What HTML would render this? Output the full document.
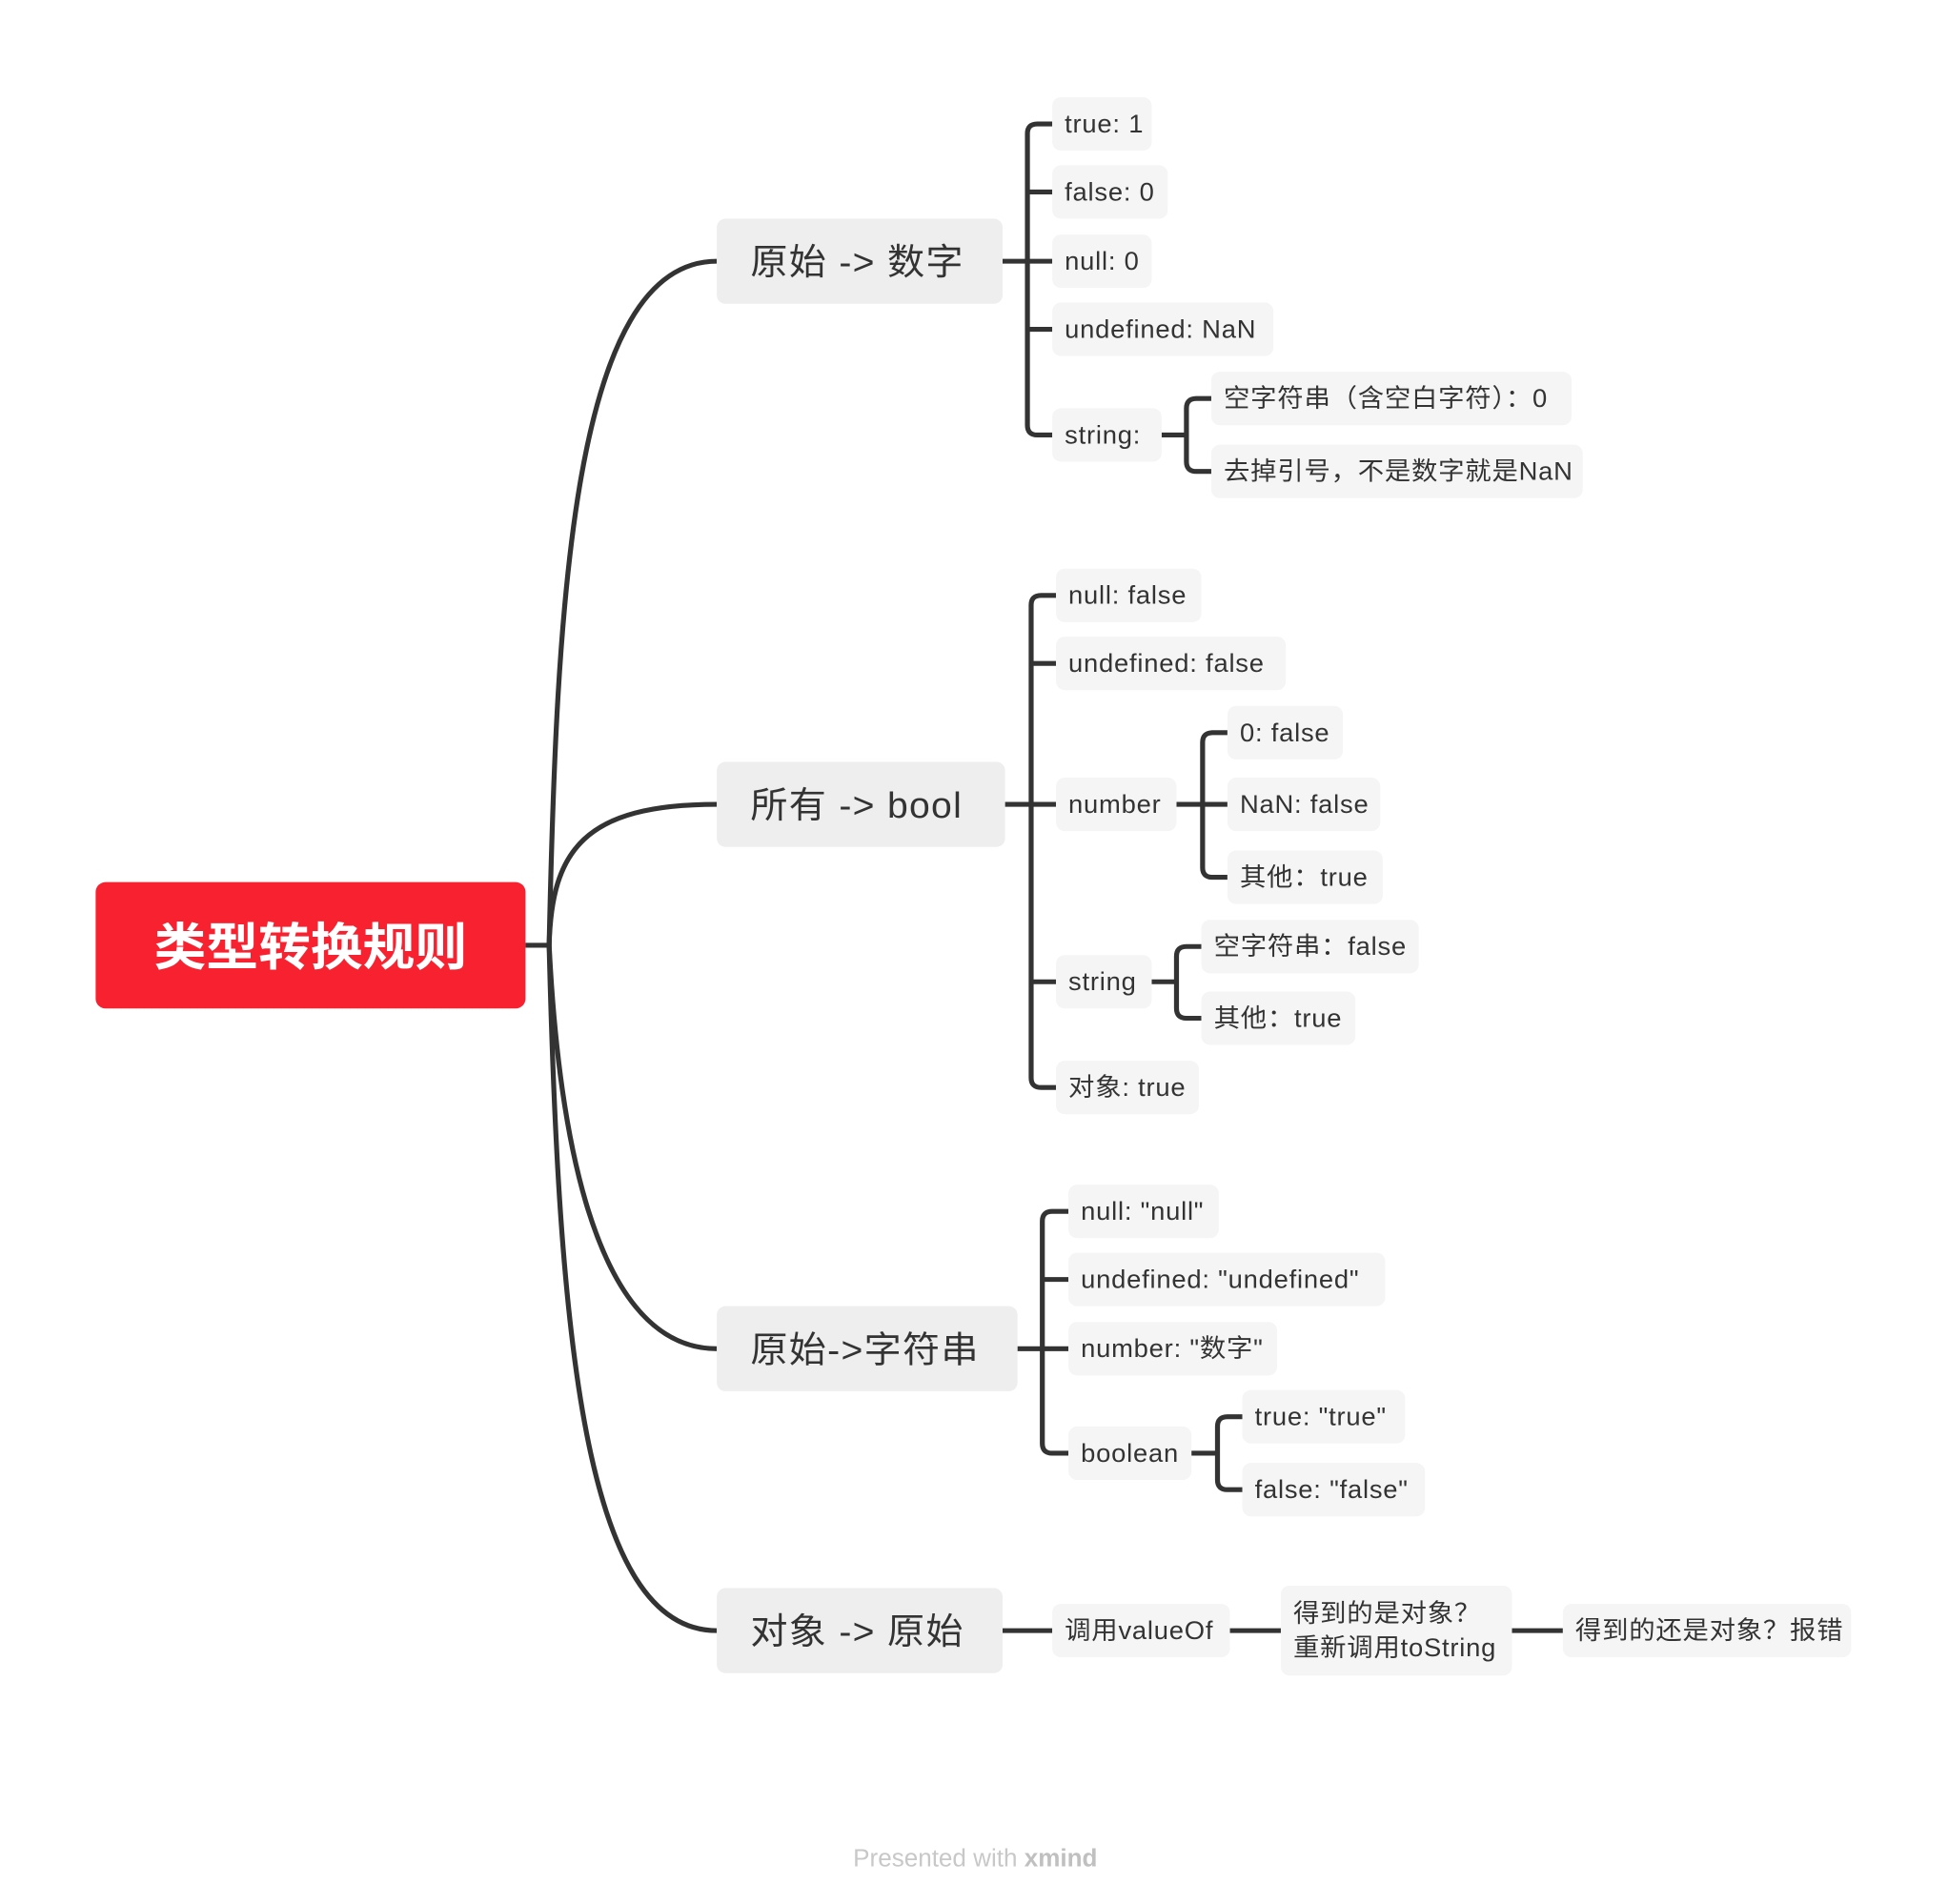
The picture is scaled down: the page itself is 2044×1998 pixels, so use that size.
<!DOCTYPE html>
<html><head><meta charset="utf-8"><style>
html,body{margin:0;padding:0;background:#fff;}
svg{display:block;}
text{font-family:"Liberation Sans","Noto Sans CJK SC",sans-serif;fill:#333;}
.l{font-size:21px;letter-spacing:0.6px;}
.b{font-size:30px;letter-spacing:1px;}
</style></head><body>
<svg width="2044" height="1998" viewBox="0 0 1568 1567" preserveAspectRatio="none" xmlns="http://www.w3.org/2000/svg">
<g fill="none" stroke="#333" stroke-width="4" stroke-linecap="butt">
<path d="M423 778 H442"/>
<path d="M442 778 C448 500 460 215 577 215"/>
<path d="M442 778 C444 700 470 662 577 662"/>
<path d="M442 778 C448 900 470 1110 577 1110"/>
<path d="M442 778 C450 1100 470 1342 577 1342"/>
<path d="M807 215 H827"/>
<path d="M847 102 H835 Q827 102 827 110 V350 Q827 358 835 358 H847"/>
<path d="M827 158 H847 M827 215 H847 M827 271 H847"/>
<path d="M935 358 H955"/>
<path d="M975 328 H963 Q955 328 955 336 V380 Q955 388 963 388 H975"/>
<path d="M809 662 H830"/>
<path d="M850 490 H838 Q830 490 830 498 V887 Q830 895 838 895 H850"/>
<path d="M830 546 H850 M830 662 H850 M830 808 H850"/>
<path d="M947 662 H968"/>
<path d="M988 603 H976 Q968 603 968 611 V714 Q968 722 976 722 H988 M968 662 H988"/>
<path d="M927 808 H947"/>
<path d="M967 779 H955 Q947 779 947 787 V830 Q947 838 955 838 H967"/>
<path d="M819 1110 H839"/>
<path d="M860 997 H847 Q839 997 839 1005 V1188 Q839 1196 847 1196 H860"/>
<path d="M839 1053 H860 M839 1110 H860"/>
<path d="M959 1196 H980"/>
<path d="M1000 1166 H988 Q980 1166 980 1174 V1218 Q980 1226 988 1226 H1000"/>
<path d="M807 1342 H847 M990 1342 H1031 M1217 1342 H1258"/>
</g>
<rect x="77" y="726" width="346" height="104" rx="8" fill="#F7212F"/>
<text x="250" y="794" text-anchor="middle" style="font-size:42px;font-weight:bold;fill:#fff">类型转换规则</text>
<g fill="#EEEEEE">
<rect x="577" y="180" width="230" height="70" rx="7"/>
<rect x="577" y="627" width="232" height="70" rx="7"/>
<rect x="577" y="1075" width="242" height="70" rx="7"/>
<rect x="577" y="1307" width="230" height="70" rx="7"/>
</g>
<text class="b" x="604" y="226">原始 -&gt; 数字</text>
<text class="b" x="604" y="673">所有 -&gt; bool</text>
<text class="b" x="604" y="1121">原始-&gt;字符串</text>
<text class="b" x="604" y="1353">对象 -&gt; 原始</text>
<g fill="#F5F5F5">
<rect x="847" y="80" width="80" height="44" rx="7"/>
<rect x="847" y="136" width="93" height="44" rx="7"/>
<rect x="847" y="193" width="80" height="44" rx="7"/>
<rect x="847" y="249" width="178" height="44" rx="7"/>
<rect x="847" y="336" width="88" height="44" rx="7"/>
<rect x="975" y="306" width="290" height="44" rx="7"/>
<rect x="975" y="366" width="299" height="44" rx="7"/>
<rect x="850" y="468" width="117" height="44" rx="7"/>
<rect x="850" y="524" width="185" height="44" rx="7"/>
<rect x="850" y="640" width="97" height="44" rx="7"/>
<rect x="850" y="786" width="77" height="44" rx="7"/>
<rect x="850" y="873" width="115" height="44" rx="7"/>
<rect x="988" y="581" width="93" height="44" rx="7"/>
<rect x="988" y="640" width="123" height="44" rx="7"/>
<rect x="988" y="700" width="125" height="44" rx="7"/>
<rect x="967" y="757" width="175" height="44" rx="7"/>
<rect x="967" y="816" width="124" height="44" rx="7"/>
<rect x="860" y="975" width="121" height="44" rx="7"/>
<rect x="860" y="1031" width="255" height="44" rx="7"/>
<rect x="860" y="1088" width="168" height="44" rx="7"/>
<rect x="860" y="1174" width="99" height="44" rx="7"/>
<rect x="1000" y="1144" width="131" height="44" rx="7"/>
<rect x="1000" y="1204" width="147" height="44" rx="7"/>
<rect x="847" y="1320" width="143" height="44" rx="7"/>
<rect x="1031" y="1305" width="186" height="74" rx="7"/>
<rect x="1258" y="1320" width="232" height="44" rx="7"/>
</g>
<text class="l" x="857" y="109">true: 1</text>
<text class="l" x="857" y="165">false: 0</text>
<text class="l" x="857" y="222">null: 0</text>
<text class="l" x="857" y="278">undefined: NaN</text>
<text class="l" x="857" y="365">string:</text>
<text class="l" x="985" y="335">空字符串（含空白字符）：0</text>
<text class="l" x="985" y="395">去掉引号，不是数字就是NaN</text>
<text class="l" x="860" y="497">null: false</text>
<text class="l" x="860" y="553">undefined: false</text>
<text class="l" x="860" y="669">number</text>
<text class="l" x="860" y="815">string</text>
<text class="l" x="860" y="902">对象: true</text>
<text class="l" x="998" y="610">0: false</text>
<text class="l" x="998" y="669">NaN: false</text>
<text class="l" x="998" y="729">其他：true</text>
<text class="l" x="977" y="786">空字符串：false</text>
<text class="l" x="977" y="845">其他：true</text>
<text class="l" x="870" y="1004">null: "null"</text>
<text class="l" x="870" y="1060">undefined: "undefined"</text>
<text class="l" x="870" y="1117">number: "数字"</text>
<text class="l" x="870" y="1203">boolean</text>
<text class="l" x="1010" y="1173">true: "true"</text>
<text class="l" x="1010" y="1233">false: "false"</text>
<text class="l" x="857" y="1349">调用valueOf</text>
<text class="l" x="1041" y="1335">得到的是对象？</text>
<text class="l" x="1041" y="1363">重新调用toString</text>
<text class="l" x="1268" y="1349">得到的还是对象？报错</text>
<text x="785" y="1536" text-anchor="middle" style="font-size:20px;fill:#c8c8c8">Presented with <tspan style="font-weight:bold;fill:#c0c0c0">xmind</tspan></text>
</svg>
</body></html>
